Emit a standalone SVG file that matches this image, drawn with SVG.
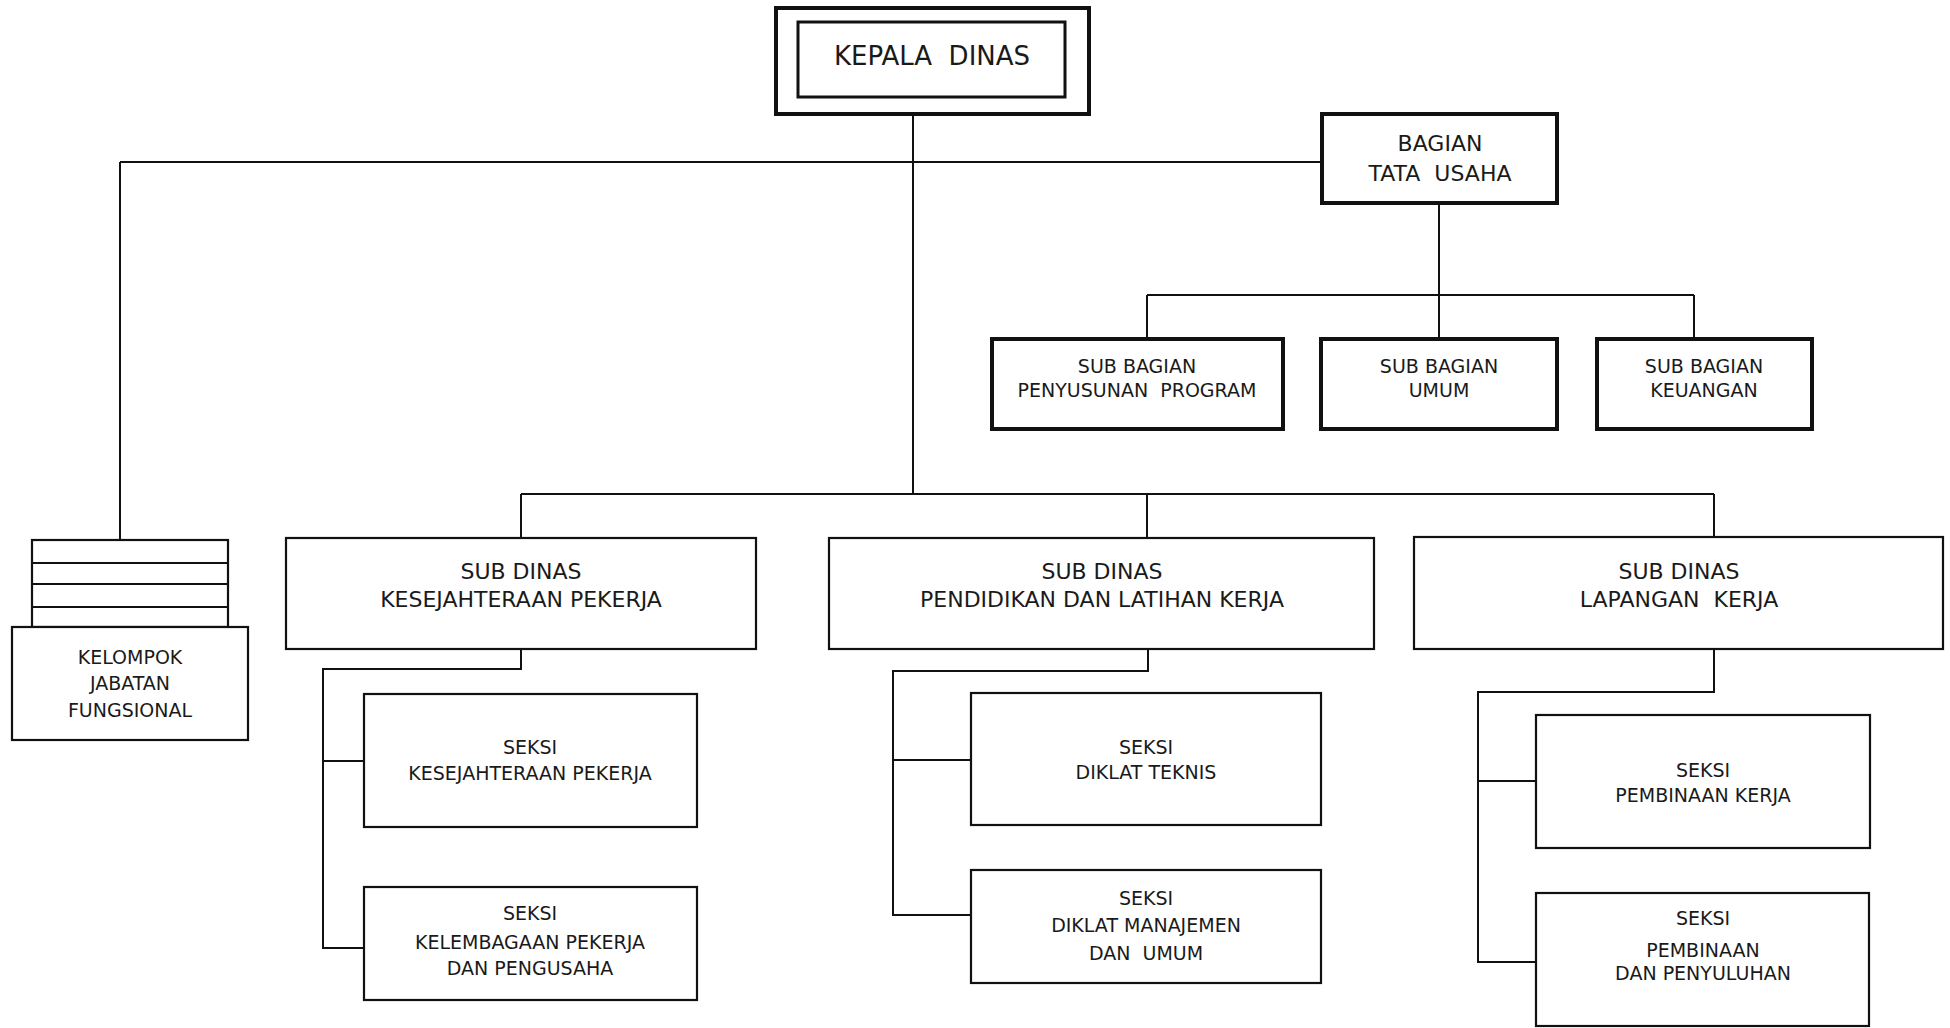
<svg xmlns="http://www.w3.org/2000/svg" width="1950" height="1028" viewBox="0 0 1950 1028" xml:space="preserve">
<style>
  .box{fill:#fff;stroke:#111;stroke-width:2.2}
  .thick{fill:#fff;stroke:#111;stroke-width:4}
  .ln{fill:none;stroke:#111;stroke-width:2}
  text{font-family:"DejaVu Sans","Liberation Sans",sans-serif;fill:#1a1a1a;text-anchor:middle;white-space:pre}
  .t26{font-size:26px}
  .t22{font-size:22px}
  .t19{font-size:19px}
</style>
<rect width="1950" height="1028" fill="#fff"/>
<g id="connectors">
  <path class="ln" d="M913 97 V494"/>
  <path class="ln" d="M120 162 H1322"/>
  <path class="ln" d="M120 162 V540"/>
  <path class="ln" d="M1439 203 V295"/>
  <path class="ln" d="M1147 295 H1694"/>
  <path class="ln" d="M1147 295 V338 M1439 295 V338 M1694 295 V338"/>
  <path class="ln" d="M521 494 H1714"/>
  <path class="ln" d="M521 494 V537 M1147 494 V537 M1714 494 V536"/>
  <path class="ln" d="M521 649 V669 H323 V948 H364 M323 761 H364"/>
  <path class="ln" d="M1148 649 V671 H893 V915 H971 M893 760 H971"/>
  <path class="ln" d="M1714 649 V692 H1478 V962 H1536 M1478 781 H1536"/>
</g>
<g id="kepala-dinas">
  <rect class="thick" x="776" y="8" width="313" height="106"/>
  <rect class="box" x="798" y="22" width="267" height="75" style="stroke-width:3"/>
  <text class="t26" x="932" y="65">KEPALA  DINAS</text>
</g>
<g id="bagian-tata-usaha">
  <rect class="thick" x="1322" y="114" width="235" height="89"/>
  <text class="t22" x="1440" y="151">BAGIAN</text>
  <text class="t22" x="1440" y="181">TATA  USAHA</text>
</g>
<g id="sub-bagian-program">
  <rect class="thick" x="992" y="339" width="291" height="90"/>
  <text class="t19" x="1137" y="373">SUB BAGIAN</text>
  <text class="t19" x="1137" y="397">PENYUSUNAN  PROGRAM</text>
</g>
<g id="sub-bagian-umum">
  <rect class="thick" x="1321" y="339" width="236" height="90"/>
  <text class="t19" x="1439" y="373">SUB BAGIAN</text>
  <text class="t19" x="1439" y="397">UMUM</text>
</g>
<g id="sub-bagian-keuangan">
  <rect class="thick" x="1597" y="339" width="215" height="90"/>
  <text class="t19" x="1704" y="373">SUB BAGIAN</text>
  <text class="t19" x="1704" y="397">KEUANGAN</text>
</g>
<g id="kelompok-jabatan-fungsional">
  <rect class="box" x="32" y="540" width="196" height="87"/>
  <path class="ln" d="M32 563 H228 M32 584 H228 M32 607 H228"/>
  <rect class="box" x="12" y="627" width="236" height="113"/>
  <text class="t19" x="130" y="664">KELOMPOK</text>
  <text class="t19" x="130" y="690">JABATAN</text>
  <text class="t19" x="130" y="717">FUNGSIONAL</text>
</g>
<g id="sub-dinas-kesejahteraan">
  <rect class="box" x="286" y="538" width="470" height="111"/>
  <text class="t22" x="521" y="579">SUB DINAS</text>
  <text class="t22" x="521" y="607">KESEJAHTERAAN PEKERJA</text>
</g>
<g id="sub-dinas-pendidikan">
  <rect class="box" x="829" y="538" width="545" height="111"/>
  <text class="t22" x="1102" y="579">SUB DINAS</text>
  <text class="t22" x="1102" y="607">PENDIDIKAN DAN LATIHAN KERJA</text>
</g>
<g id="sub-dinas-lapangan">
  <rect class="box" x="1414" y="537" width="529" height="112"/>
  <text class="t22" x="1679" y="579">SUB DINAS</text>
  <text class="t22" x="1679" y="607">LAPANGAN  KERJA</text>
</g>
<g id="seksi-kesejahteraan">
  <rect class="box" x="364" y="694" width="333" height="133"/>
  <text class="t19" x="530" y="754">SEKSI</text>
  <text class="t19" x="530" y="780">KESEJAHTERAAN PEKERJA</text>
</g>
<g id="seksi-kelembagaan">
  <rect class="box" x="364" y="887" width="333" height="113"/>
  <text class="t19" x="530" y="920">SEKSI</text>
  <text class="t19" x="530" y="949">KELEMBAGAAN PEKERJA</text>
  <text class="t19" x="530" y="975">DAN PENGUSAHA</text>
</g>
<g id="seksi-diklat-teknis">
  <rect class="box" x="971" y="693" width="350" height="132"/>
  <text class="t19" x="1146" y="754">SEKSI</text>
  <text class="t19" x="1146" y="779">DIKLAT TEKNIS</text>
</g>
<g id="seksi-diklat-manajemen">
  <rect class="box" x="971" y="870" width="350" height="113"/>
  <text class="t19" x="1146" y="905">SEKSI</text>
  <text class="t19" x="1146" y="932">DIKLAT MANAJEMEN</text>
  <text class="t19" x="1146" y="960">DAN  UMUM</text>
</g>
<g id="seksi-pembinaan-kerja">
  <rect class="box" x="1536" y="715" width="334" height="133"/>
  <text class="t19" x="1703" y="777">SEKSI</text>
  <text class="t19" x="1703" y="802">PEMBINAAN KERJA</text>
</g>
<g id="seksi-pembinaan-penyuluhan">
  <rect class="box" x="1536" y="893" width="333" height="133"/>
  <text class="t19" x="1703" y="925">SEKSI</text>
  <text class="t19" x="1703" y="957">PEMBINAAN</text>
  <text class="t19" x="1703" y="980">DAN PENYULUHAN</text>
</g>
</svg>
